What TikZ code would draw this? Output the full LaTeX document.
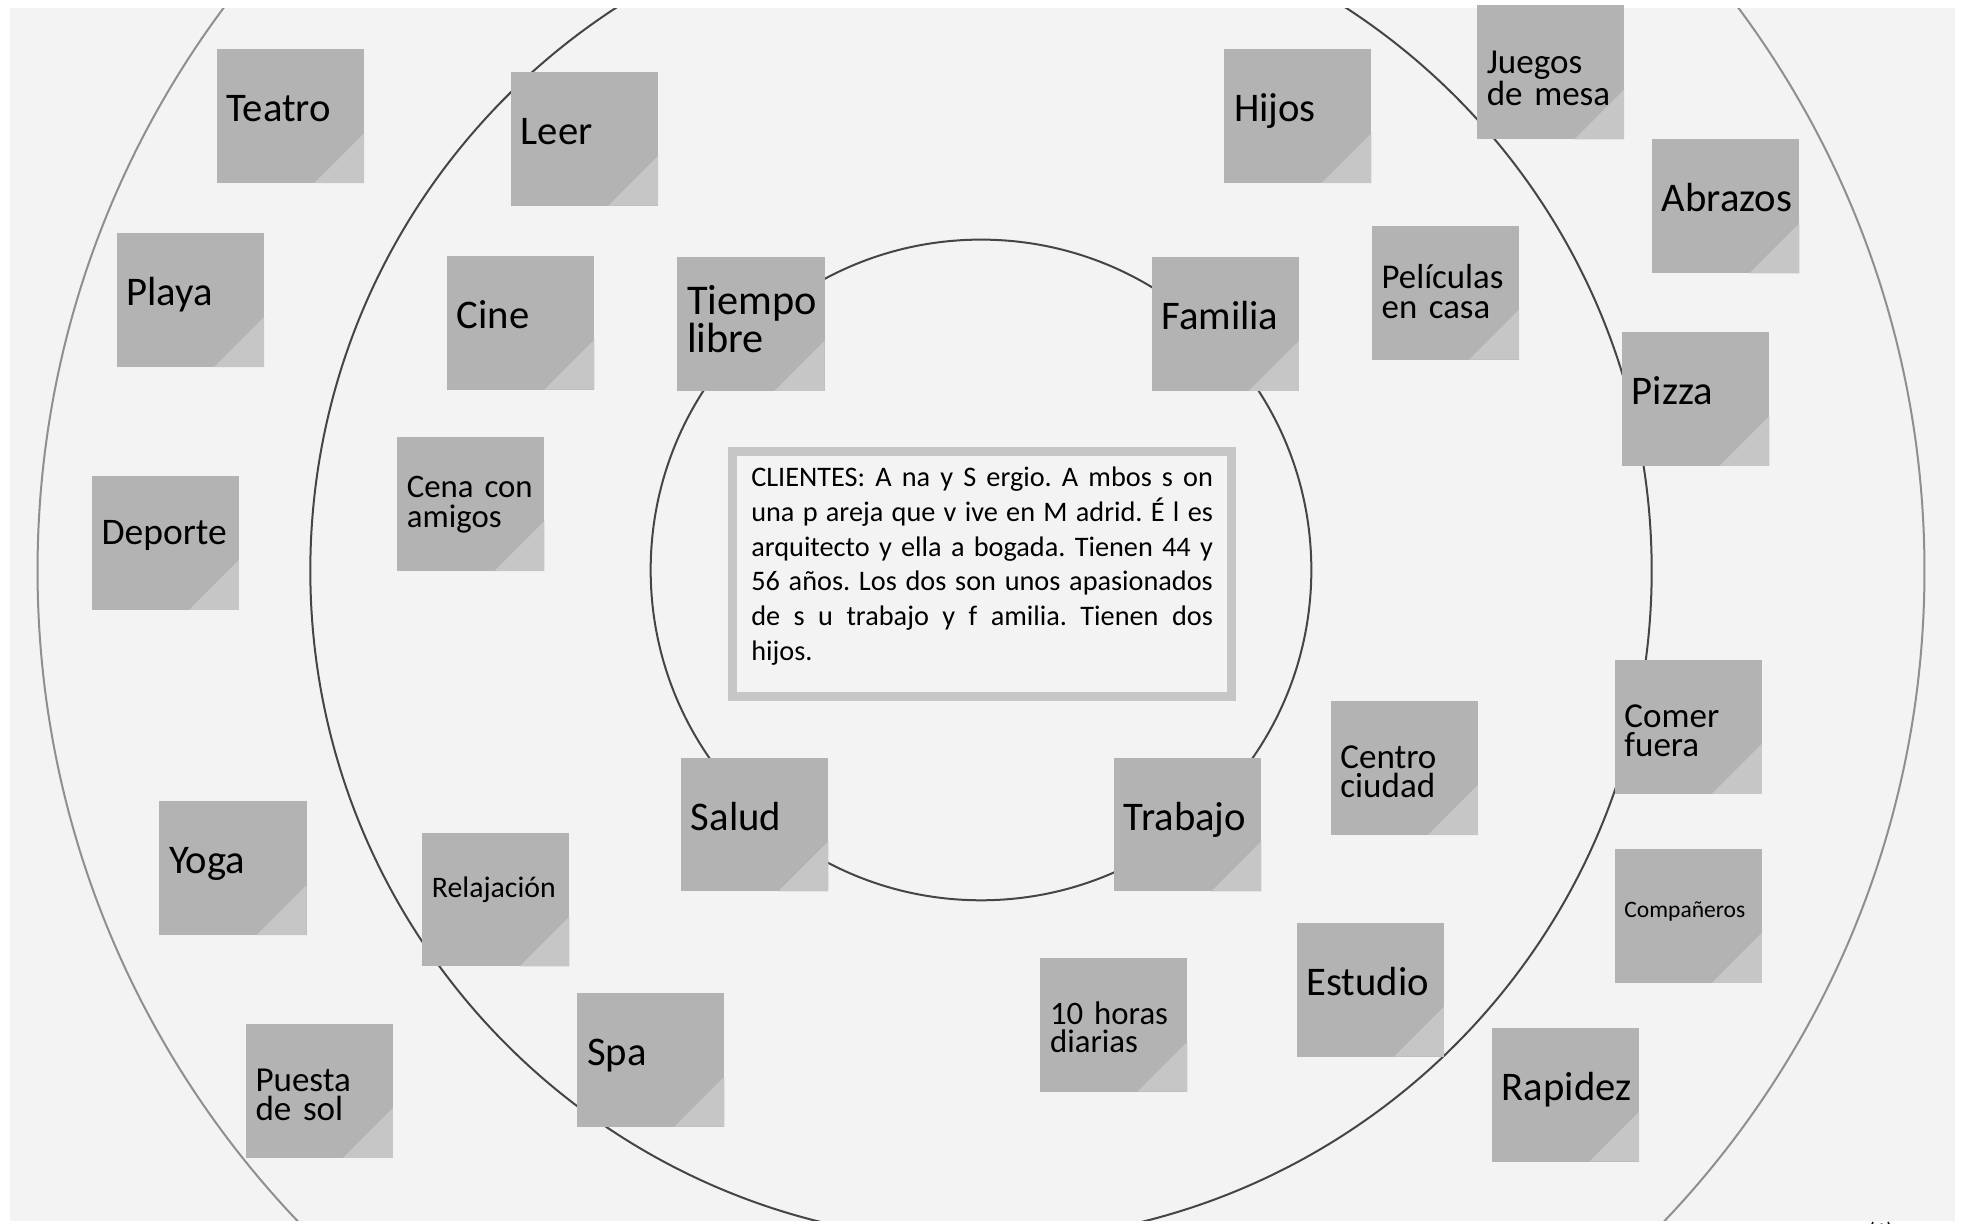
\documentclass[tikz,border=0pt]{standalone}
\usepackage{fontspec}
\setmainfont{Carlito}
\frenchspacing
\definecolor{bggray}{HTML}{F3F3F3}
\definecolor{notegray}{HTML}{B3B3B3}
\definecolor{foldgray}{HTML}{C6C6C6}
\definecolor{framegray}{HTML}{C6C6C6}
\definecolor{ringdark}{HTML}{454545}
\definecolor{ringlight}{HTML}{8F8F8F}
\tikzset{
    note/.style = {
        fill = notegray,
        minimum width = 58.75pt,
        minimum height = 53.5pt,
        text width = 51pt,
        inner xsep = 3.9pt,
        inner ysep = 0pt,
        align = left,
        anchor = north west,
        text = black,
        path picture = {
            \fill[foldgray] (path picture bounding box.south east)
                -- ++(-20pt,0pt) -- ++(20pt,20pt) -- cycle;
            },
        },
    ring/.style = {
        draw = ringdark,
        line width = 0.8pt,
        },
    outer ring/.style = {
        draw = ringlight,
        line width = 0.8pt,
        },
}

\begin{document}
\begin{tikzpicture}[
            x=0.5pt, y=-0.5pt,
            TextDrop/.style={text height=10pt, text depth=#1},
            BigNote/.style={note, font=\fontsize{16.25}{15}\selectfont, TextDrop=5.5pt},
            MidNote/.style={note, font=\fontsize{14}{11.5}\selectfont, TextDrop=9.5pt},
            ClientBox/.style={draw=framegray, line width=3.6pt, minimum width=199.6pt,
                minimum height=97.65pt, text width=184.5pt, inner xsep=7.55pt, inner ysep=0pt,
                align=justify, font=\fontsize{11.3}{13.85}\selectfont,
                text height=8pt, text depth=77.7pt}
            ]
            \useasboundingbox (0,0) rectangle (1568,978.2);
            \fill[bggray] (8,6.4) rectangle (1562.4,975.5);

            % rings
            \begin{scope}
            \clip (8,6.4) rectangle (1562.4,975.5);
            \draw[outer ring] (784,456) circle[radius=754];
            \draw[ring] (784,456) circle[radius=536];
            \draw[ring] (784,455.5) circle[radius=264];
            \end{scope}

            \node [ClientBox] (clientes) at (784.9,458.75) {CLIENTES: A na y  S ergio. A mbos s on\linebreak
                una p areja que v ive en M adrid. É l es\linebreak
                arquitecto y ella a bogada. Tienen 44 y\linebreak
                56 años. Los dos son unos apasionados\linebreak
                de s u trabajo y f amilia. Tienen dos\linebreak
                hijos.};

            % inner ring
            \node [BigNote, font=\fontsize{16.9}{15}\selectfont, TextDrop=17.5pt] (tiempo) at (541,205) {Tiempo\\libre};
            \node [BigNote] (familia) at (920,205) {Familia};
            \node [BigNote] (salud) at (544,605) {Salud};
            \node [BigNote] (trabajo) at (890,605) {Trabajo};

            % middle ring
            \node [BigNote] (leer) at (408,57) {Leer};
            \node [BigNote] (cine) at (357,204) {Cine};
            \node [MidNote, font=\fontsize{13.1}{12.2}\selectfont, TextDrop=15.5pt] (cena) at (317,349) {Cena~con\\amigos};
            \node [MidNote, font=\fontsize{11.9}{11}\selectfont, TextDrop=11.5pt] (relajacion) at (337,665) {Relajación};
            \node [BigNote] (spa) at (461,793) {Spa};
            \node [BigNote] (hijos) at (978,39) {Hijos};
            \node [MidNote, font=\fontsize{13.9}{12}\selectfont, TextDrop=13.5pt] (peliculas) at (1096,180) {Películas\\en casa};
            \node [MidNote] (centro) at (1063,560) {Centro\\ciudad};
            \node [BigNote] (estudio) at (1036,737) {Estudio};
            \node [MidNote, font=\fontsize{13.1}{11.2}\selectfont, TextDrop=10.5pt] (horas) at (831,765) {10~horas\\diarias};

            % outer ring
            \node [BigNote] (teatro) at (173,39) {Teatro};
            \node [BigNote] (playa) at (93,186) {Playa};
            \node [MidNote, font=\fontsize{15}{13}\selectfont, TextDrop=8.5pt] (deporte) at (73,380) {Deporte};
            \node [BigNote] (yoga) at (127,640) {Yoga};
            \node [MidNote] (puesta) at (196,818) {Puesta\\de sol};
            \node [MidNote] (juegos) at (1180,4) {Juegos\\de mesa};
            \node [BigNote] (abrazos) at (1320,111) {Abrazos};
            \node [BigNote] (pizza) at (1296,265) {Pizza};
            \node [MidNote] (comer) at (1290,527) {Comer\\fuera};
            \node [MidNote, font=\fontsize{9.4}{9}\selectfont, TextDrop=8.5pt] (companeros) at (1290,678) {Compañeros};
            \node [BigNote] (rapidez) at (1192,821) {Rapidez};

            \node [anchor=north, inner sep=0pt, font=\fontsize{9}{9}\selectfont] (llamada) at (1503,976) {(1)};
\end{tikzpicture}
\end{document}
